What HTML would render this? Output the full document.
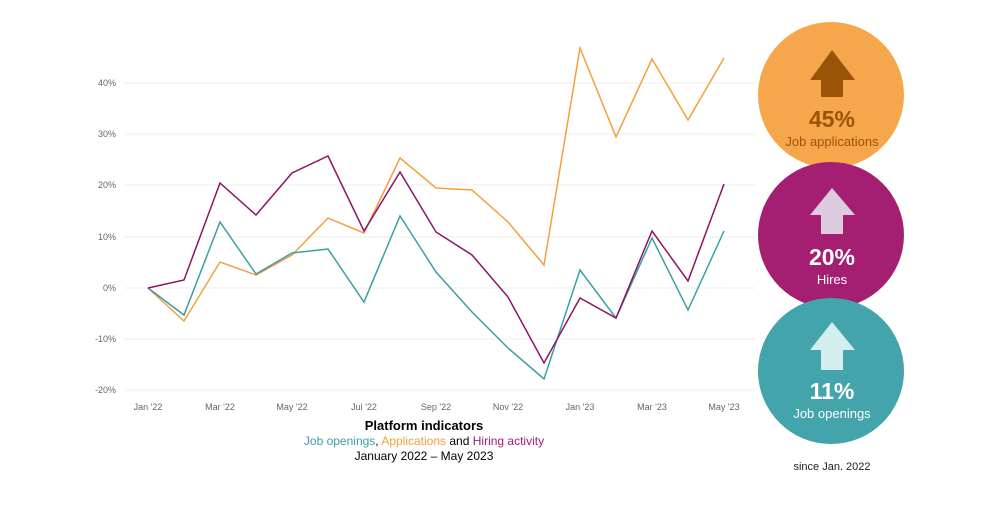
<!DOCTYPE html>
<html><head><style>
body{margin:0;width:1000px;height:500px;background:#fff;font-family:"Liberation Sans",sans-serif;overflow:hidden}
</style></head><body>
<svg width="1000" height="500" xmlns="http://www.w3.org/2000/svg" font-family="Liberation Sans, sans-serif">
<g stroke="#eee" stroke-width="1">
<line x1="125" x2="755" y1="83" y2="83"/><line x1="125" x2="755" y1="134" y2="134"/><line x1="125" x2="755" y1="185" y2="185"/><line x1="125" x2="755" y1="237" y2="237"/><line x1="125" x2="755" y1="288" y2="288"/><line x1="125" x2="755" y1="339" y2="339"/><line x1="125" x2="755" y1="390" y2="390"/>
</g>
<g font-size="9" fill="#666" text-anchor="end">
<text x="116" y="86">40%</text><text x="116" y="137">30%</text><text x="116" y="188">20%</text><text x="116" y="240">10%</text><text x="116" y="291">0%</text><text x="116" y="342">-10%</text><text x="116" y="393">-20%</text>
</g>
<g font-size="9" fill="#666" text-anchor="middle">
<text x="148" y="410">Jan '22</text><text x="220" y="410">Mar '22</text><text x="292" y="410">May '22</text><text x="364" y="410">Jul '22</text><text x="436" y="410">Sep '22</text><text x="508" y="410">Nov '22</text><text x="580" y="410">Jan '23</text><text x="652" y="410">Mar '23</text><text x="724" y="410">May '23</text>
</g>
<g fill="none" stroke-width="1.5">
<polyline stroke="#f4a03c" points="148,288 184,321 220,262 256,275 292,255 328,218 364,233 400,158 436,188 472,190 508,222 544,265 580,48 616,137 652,59 688,120 724,58"/>
<polyline stroke="#3aa0a5" points="148,288 184,315 220,222 256,274 292,253 328,249 364,302 400,216 436,272 472,312 508,348 544,379 580,270 616,318 652,238 688,310 724,231"/>
<polyline stroke="#8e1465" points="148,288 184,280 220,183 256,215 292,173 328,156 364,231 400,172 436,232 472,255 508,297 544,363 580,298 616,318 652,231 688,281 724,184"/>
</g>
<text x="424" y="430" font-size="13" font-weight="bold" text-anchor="middle">Platform indicators</text>
<text x="424" y="445" font-size="12" text-anchor="middle"><tspan fill="#3aa0a5">Job openings</tspan>, <tspan fill="#f4a03c">Applications</tspan> and <tspan fill="#a01d74">Hiring activity</tspan></text>
<text x="424" y="460" font-size="12" text-anchor="middle">January 2022 – May 2023</text>
<circle cx="831" cy="95" r="73" fill="#f6a74c"/>
<circle cx="831" cy="235" r="73" fill="#a41f71"/>
<circle cx="831" cy="371" r="73" fill="#43a4ab"/>
<polygon points="832,50 855,80 843,80 843,97 821,97 821,80 810,80" fill="#9a5407"/>
<polygon points="832,188 855,215 843,215 843,234 821,234 821,215 810,215" fill="#dfcbe0"/>
<polygon points="832,322 855,350 843,350 843,370 821,370 821,350 810,350" fill="#d3eeee"/>
<g text-anchor="middle" font-weight="bold" font-size="23">
<text x="832" y="127" fill="#9a5407">45%</text>
<text x="832" y="265" fill="#fff">20%</text>
<text x="832" y="399" fill="#fff">11%</text>
</g>
<g text-anchor="middle" font-size="13">
<text x="832" y="146" fill="#9a5407">Job applications</text>
<text x="832" y="284" fill="#fff">Hires</text>
<text x="832" y="418" fill="#fff">Job openings</text>
</g>
<text x="832" y="470" font-size="11" text-anchor="middle" fill="#222">since Jan. 2022</text>
</svg>
</body></html>
